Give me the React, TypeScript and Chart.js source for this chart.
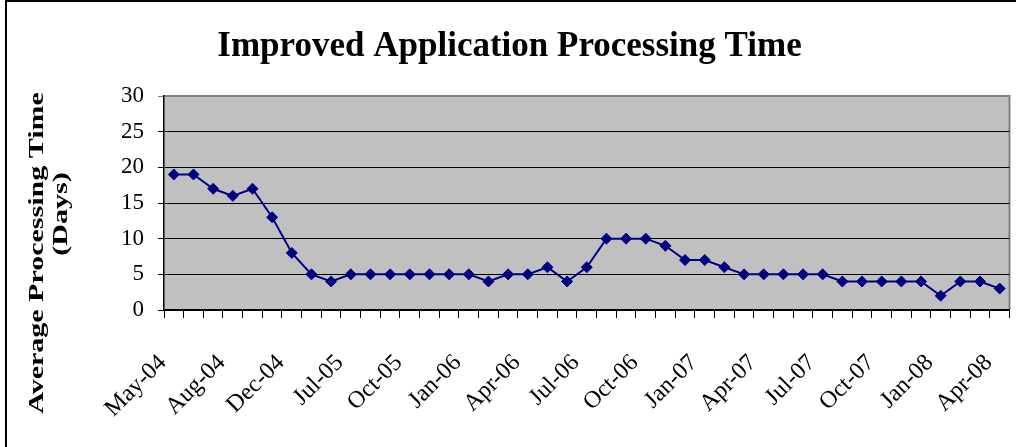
import React, { useEffect, useRef } from "react";
import { Chart, registerables } from "chart.js";

Chart.register(...registerables);

const categories = [
  "May-04", "Jun-04", "Jul-04", "Aug-04", "Oct-04", "Nov-04", "Dec-04", "Feb-05", "Apr-05",
  "Jul-05", "Aug-05", "Sep-05", "Oct-05", "Nov-05", "Dec-05", "Jan-06", "Feb-06", "Mar-06",
  "Apr-06", "May-06", "Jun-06", "Jul-06", "Aug-06", "Sep-06", "Oct-06", "Nov-06", "Dec-06",
  "Jan-07", "Feb-07", "Mar-07", "Apr-07", "May-07", "Jun-07", "Jul-07", "Aug-07", "Sep-07",
  "Oct-07", "Nov-07", "Dec-07", "Jan-08", "Feb-08", "Mar-08", "Apr-08",
];

const processingDays = [
  19, 19, 17, 16, 17, 13, 8, 5, 4,
  5, 5, 5, 5, 5, 5, 5, 4, 5,
  5, 6, 4, 6, 10, 10, 10, 9, 7,
  7, 6, 5, 5, 5, 5, 5, 4, 4,
  4, 4, 4, 2, 4, 4, 3,
];

const chartTitle = "Improved Application Processing Time";
const yTitleLines = ["Average Processing Time", "(Days)"];
const labelEvery = 3;

const SERIF = "'Liberation Serif', 'Times New Roman', serif";

export default function App() {
  const ref = useRef<HTMLCanvasElement | null>(null);

  useEffect(() => {
    document.body.style.margin = "0";
    const canvas = ref.current;
    if (!canvas) return;

    const decor = {
      id: "decor",
      beforeDraw(chart: any) {
        const { ctx, chartArea: a } = chart;
        ctx.save();
        ctx.fillStyle = "#ffffff";
        ctx.fillRect(0, 0, chart.width, chart.height);
        ctx.strokeStyle = "#000000";
        ctx.lineWidth = 2;
        ctx.strokeRect(6, 1, chart.width + 20, chart.height + 20);
        ctx.fillStyle = "#c0c0c0";
        ctx.fillRect(a.left, a.top, a.right - a.left, a.bottom - a.top);
        ctx.strokeStyle = "#808080";
        ctx.lineWidth = 2;
        ctx.beginPath();
        ctx.moveTo(a.left, a.top);
        ctx.lineTo(a.right, a.top);
        ctx.lineTo(a.right, a.bottom);
        ctx.stroke();
        ctx.restore();
      },
      afterDraw(chart: any) {
        const { ctx } = chart;
        ctx.save();
        ctx.fillStyle = "#000000";
        ctx.font = `bold 30px ${SERIF}`;
        ctx.textAlign = "center";
        ctx.textBaseline = "middle";
        const centers = [
          { x: 37, y: 253 },
          { x: 61, y: 214 },
        ];
        yTitleLines.forEach((line, i) => {
          ctx.save();
          ctx.translate(centers[i].x, centers[i].y);
          ctx.rotate(-Math.PI / 2);
          ctx.scale(1, 0.72);
          ctx.fillText(line, 0, 0);
          ctx.restore();
        });
        ctx.restore();
      },
    };

    const chart = new Chart(canvas, {
      type: "line",
      data: {
        labels: categories,
        datasets: [
          {
            label: "Average Processing Time",
            data: processingDays,
            borderColor: "#000080",
            backgroundColor: "#000080",
            borderWidth: 2,
            pointStyle: "rectRot",
            pointRadius: 5.5,
            pointBorderWidth: 1,
            pointBackgroundColor: "#000080",
            pointBorderColor: "#000080",
            tension: 0,
          },
        ],
      },
      options: {
        responsive: false,
        animation: false,
        layout: { padding: { left: 8, right: 5, top: 0, bottom: 0 } },
        plugins: {
          legend: { display: false },
          tooltip: { enabled: false },
          title: {
            display: true,
            text: chartTitle,
            color: "#000000",
            font: { family: SERIF, size: 35, weight: "bold", lineHeight: 1.2 },
            padding: { top: 26, bottom: 28 },
          },
        },
        scales: {
          x: {
            offset: true,
            afterFit: (scale: any) => {
              scale.height = 137;
              scale.paddingLeft = 0;
              scale.paddingRight = 0;
            },
            grid: {
              offset: true,
              drawOnChartArea: false,
              drawTicks: true,
              tickLength: 8,
              color: "#000000",
            },
            border: { display: true, color: "#000000", width: 1.5 },
            ticks: {
              autoSkip: false,
              minRotation: 45,
              maxRotation: 45,
              color: "#000000",
              padding: 31,
              labelOffset: -11,
              font: { family: SERIF, size: 24 },
              callback: function (this: any, value: any, index: number) {
                return index % labelEvery === 0 ? this.getLabelForValue(value) : "";
              },
            },
          },
          y: {
            min: 0,
            max: 30,
            afterFit: (scale: any) => {
              scale.width = 156;
            },
            grid: {
              color: (c: any) => (c.tick && c.tick.value === 30 ? "#808080" : "#000000"),
              lineWidth: 1,
              drawTicks: true,
              tickLength: 6,
            },
            border: { display: true, color: "#000000", width: 1.5 },
            ticks: {
              stepSize: 5,
              color: "#000000",
              padding: 14,
              font: { family: SERIF, size: 23 },
            },
          },
        },
      },
      plugins: [decor],
    });

    return () => chart.destroy();
  }, []);

  return (
    <div style={{ position: "absolute", left: 0, top: 0, width: 1016, height: 447 }}>
      <canvas ref={ref} width={1016} height={447} style={{ display: "block", width: 1016, height: 447 }} />
    </div>
  );
}
